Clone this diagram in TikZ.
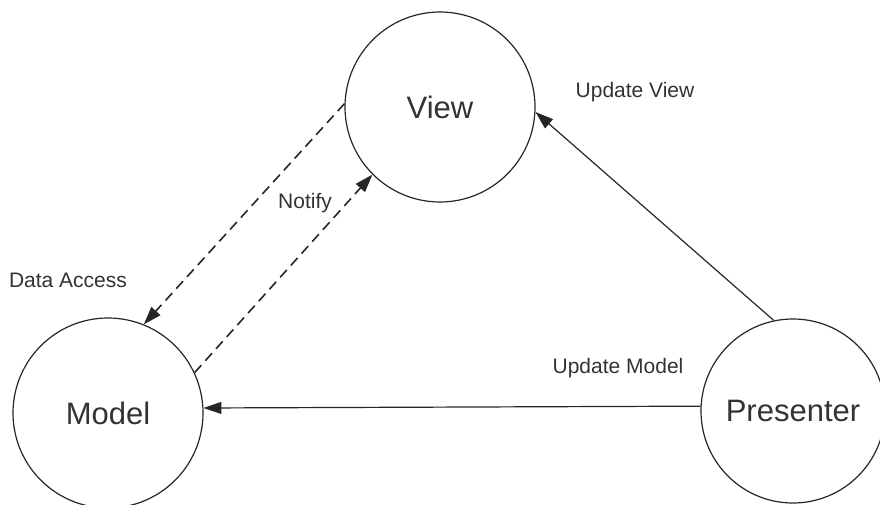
\documentclass[tikz,border=0pt]{standalone}
\usepackage{fontspec}
\setmainfont{Liberation Sans}
\usetikzlibrary{arrows.meta}

\begin{document}
\begin{tikzpicture}[
        x=1pt, y=-1pt,
        unit/.style={circle, draw=black!85, line width=1.2pt, minimum size=190pt, inner sep=0pt,
            text=black!80, font=\fontsize{31}{36}\selectfont},
        label text/.style={text=black!80, font=\fontsize{21}{25}\selectfont},
        pile/.style={line width=1.2pt, draw=black!85, -{Triangle[length=18pt, width=12pt]}},
        dashed pile/.style={pile, line width=1.6pt, dash pattern=on 10pt off 6pt}
    ]
    \useasboundingbox (0,0) rectangle (880,505);

    \node[unit] (view) at (440,107) {View};
    \node[unit] (model) at (108,413) {Model};
    \node[unit, minimum size=184pt] (presenter) at (793,411) {Presenter};

    \draw[pile] (presenter.102) -- (view.-3);
    \draw[pile] (presenter.177.5) -- (model.3.6);

    \draw[dashed pile] (view.178) -- (model.68);
    \draw[dashed pile] (model.25) -- (view.225);

    \node[label text] (access) at (68,280) {Data Access};
    \node[label text] (notify) at (305,203) {Notify};
    \node[label text] (updview) at (635,92) {Update View};
    \node[label text] (updmodel) at (618,368) {Update Model};

\end{tikzpicture}
\end{document}
